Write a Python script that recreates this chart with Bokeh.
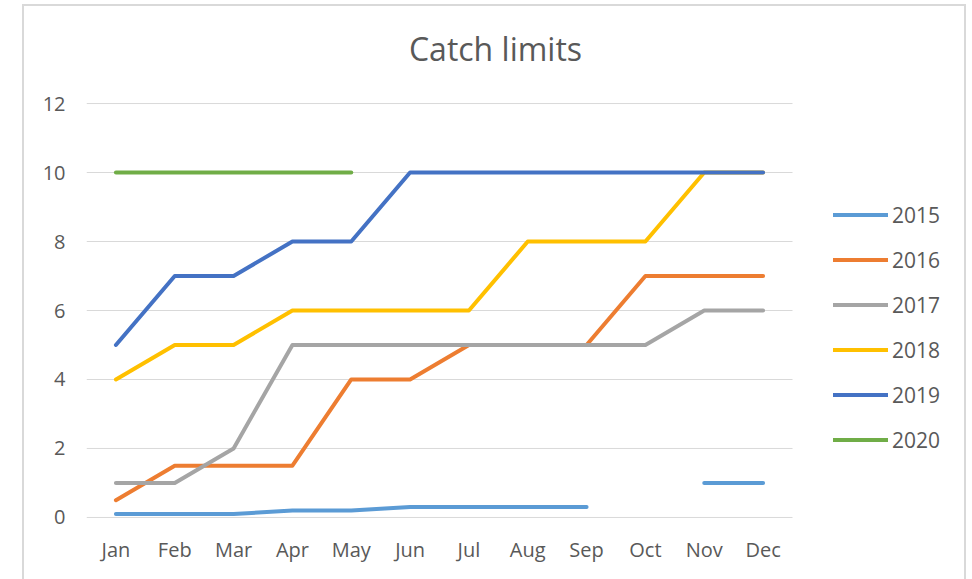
from bokeh.plotting import figure
from bokeh.models import Legend, LegendItem, FixedTicker, Range1d, InlineStyleSheet, Label
from bokeh.embed import file_html
from bokeh.resources import INLINE

months = ["Jan", "Feb", "Mar", "Apr", "May", "Jun", "Jul", "Aug", "Sep", "Oct", "Nov", "Dec"]
years = ["2015", "2016", "2017", "2018", "2019", "2020"]
nan = float("nan")
v2015 = [0.1, 0.1, 0.1, 0.2, 0.2, 0.3, 0.3, 0.3, 0.3, nan, 1, 1]
v2016 = [0.5, 1.5, 1.5, 1.5, 4, 4, 5, 5, 5, 7, 7, 7]
v2017 = [1, 1, 2, 5, 5, 5, 5, 5, 5, 5, 6, 6]
v2018 = [4, 5, 5, 6, 6, 6, 6, 8, 8, 8, 10, 10]
v2019 = [5, 7, 7, 8, 8, 10, 10, 10, 10, 10, 10, 10]
v2020 = [10, 10, 10, 10, 10, nan, nan, nan, nan, nan, nan, nan]
series = [v2015, v2016, v2017, v2018, v2019, v2020]
colors = ["#5B9BD5", "#ED7D31", "#A5A5A5", "#FFC000", "#4472C4", "#70AD47"]
yticks = [0, 2, 4, 6, 8, 10, 12]
title_text = "Catch limits"

FONT = "Open Sans"
TXT = "#595959"

W, H = 968, 571
LEFT, BOTTOM = 86, 53
PLOT_W, PLOT_H = 706, 416          # px of the month area and of the 0..12 area
Y0, Y1 = -0.03, 12.03
xs = list(range(len(months)))
unit_x = PLOT_W / len(months)
x_end = -0.5 + (W - LEFT) / unit_x
unit_y = PLOT_H / (Y1 - Y0)
y_end = Y0 + (H - BOTTOM) / unit_y

p = figure(width=W, height=H, x_range=Range1d(-0.5, x_end),
           y_range=Range1d(Y0, y_end), output_backend="svg", toolbar_location=None,
           title_location=None,
           min_border_left=LEFT, min_border_right=0, min_border_top=0, min_border_bottom=BOTTOM)
p.outline_line_color = None
p.background_fill_color = "white"
p.border_fill_color = "white"

p.xgrid.grid_line_color = None
p.ygrid.grid_line_color = None
p.segment(x0=-0.5, x1=len(months) - 0.5, y0=yticks, y1=yticks, line_color="#D9D9D9", line_width=1)

p.yaxis.ticker = FixedTicker(ticks=yticks)
p.xaxis.ticker = FixedTicker(ticks=xs)
p.xaxis.major_label_overrides = {i: m for i, m in zip(xs, months)}

for ax in (p.xaxis, p.yaxis):
    ax.axis_line_color = None
    ax.major_tick_line_color = None
    ax.minor_tick_line_color = None
    ax.major_tick_out = 0
    ax.major_tick_in = 0
    ax.major_label_text_font = FONT
    ax.major_label_text_font_size = "20px"
    ax.major_label_text_color = TXT
p.xaxis.major_label_standoff = 17
p.yaxis.major_label_standoff = 21

items = []
for name, vals, c in zip(years, series, colors):
    r = p.line(xs, vals, line_color=c, line_width=4, line_cap="round", line_join="round")
    items.append(LegendItem(label=name, renderers=[r]))

legend = Legend(items=items, location=(747, 64), orientation="vertical",
                glyph_width=55, glyph_height=29, label_height=29, spacing=16,
                padding=0, margin=0, label_standoff=4,
                label_text_font=FONT, label_text_font_size="21px", label_text_color=TXT,
                border_line_color=None, background_fill_alpha=0)
p.add_layout(legend, "center")

p.add_layout(Label(x=409, y=470, x_units="screen", y_units="screen", text=title_text,
                   text_align="center", text_baseline="middle", text_font=FONT,
                   text_font_size="32px", text_color=TXT))

p.stylesheets = [InlineStyleSheet(css=":host::after{content:'';position:absolute;left:22px;top:4px;"
                                      "width:944px;height:640px;border:2px solid #D9D9D9;"
                                      "box-sizing:border-box;pointer-events:none;}")]

open("out.html", "w").write(file_html(p, INLINE))
